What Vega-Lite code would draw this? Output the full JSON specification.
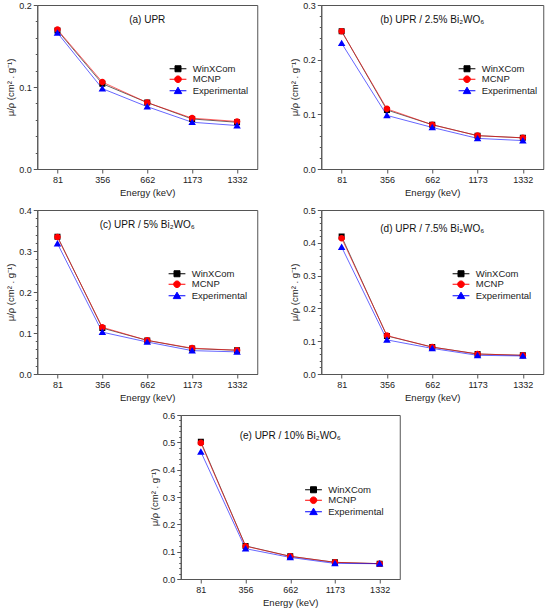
{
  "$schema": "https://vega.github.io/schema/vega-lite/v6.json",
  "padding": {"left": 5, "top": 0, "right": 3, "bottom": 2},
  "background": "white",
  "config": {
    "font": "Liberation Sans",
    "view": {"stroke": "#555", "strokeWidth": 1},
    "axis": {"labelFontSize": 9, "titleFontSize": 9.5, "titleFontWeight": "normal", "grid": false, "domainColor": "#555", "tickColor": "#555", "labelColor": "#222", "titleColor": "#222", "tickSize": 4, "labelPadding": 2},
    "axisY": {"titlePadding": 3},
    "axisX": {"titlePadding": 3, "labelAngle": 0},
    "title": {"fontSize": 10, "fontWeight": "normal", "color": "#111", "anchor": "middle", "baseline": "middle", "frame": "group"},
    "legend": {"labelFontSize": 9.5, "labelColor": "#222", "symbolSize": 36, "symbolStrokeWidth": 1, "labelOffset": 10, "rowPadding": -0.5, "orient": "none"}
  },
  "datasets": {
    "d": [
      {"panel": "a", "series": "WinXCom", "energy": 81, "mu": 0.169},
      {"panel": "a", "series": "WinXCom", "energy": 356, "mu": 0.104},
      {"panel": "a", "series": "WinXCom", "energy": 662, "mu": 0.081},
      {"panel": "a", "series": "WinXCom", "energy": 1173, "mu": 0.061},
      {"panel": "a", "series": "WinXCom", "energy": 1332, "mu": 0.057},
      {"panel": "a", "series": "MCNP", "energy": 81, "mu": 0.170},
      {"panel": "a", "series": "MCNP", "energy": 356, "mu": 0.106},
      {"panel": "a", "series": "MCNP", "energy": 662, "mu": 0.081},
      {"panel": "a", "series": "MCNP", "energy": 1173, "mu": 0.062},
      {"panel": "a", "series": "MCNP", "energy": 1332, "mu": 0.058},
      {"panel": "a", "series": "Experimental", "energy": 81, "mu": 0.166},
      {"panel": "a", "series": "Experimental", "energy": 356, "mu": 0.098},
      {"panel": "a", "series": "Experimental", "energy": 662, "mu": 0.076},
      {"panel": "a", "series": "Experimental", "energy": 1173, "mu": 0.057},
      {"panel": "a", "series": "Experimental", "energy": 1332, "mu": 0.053},

      {"panel": "b", "series": "WinXCom", "energy": 81, "mu": 0.252},
      {"panel": "b", "series": "WinXCom", "energy": 356, "mu": 0.108},
      {"panel": "b", "series": "WinXCom", "energy": 662, "mu": 0.081},
      {"panel": "b", "series": "WinXCom", "energy": 1173, "mu": 0.061},
      {"panel": "b", "series": "WinXCom", "energy": 1332, "mu": 0.057},
      {"panel": "b", "series": "MCNP", "energy": 81, "mu": 0.252},
      {"panel": "b", "series": "MCNP", "energy": 356, "mu": 0.110},
      {"panel": "b", "series": "MCNP", "energy": 662, "mu": 0.081},
      {"panel": "b", "series": "MCNP", "energy": 1173, "mu": 0.061},
      {"panel": "b", "series": "MCNP", "energy": 1332, "mu": 0.057},
      {"panel": "b", "series": "Experimental", "energy": 81, "mu": 0.230},
      {"panel": "b", "series": "Experimental", "energy": 356, "mu": 0.098},
      {"panel": "b", "series": "Experimental", "energy": 662, "mu": 0.076},
      {"panel": "b", "series": "Experimental", "energy": 1173, "mu": 0.056},
      {"panel": "b", "series": "Experimental", "energy": 1332, "mu": 0.052},

      {"panel": "c", "series": "WinXCom", "energy": 81, "mu": 0.335},
      {"panel": "c", "series": "WinXCom", "energy": 356, "mu": 0.112},
      {"panel": "c", "series": "WinXCom", "energy": 662, "mu": 0.082},
      {"panel": "c", "series": "WinXCom", "energy": 1173, "mu": 0.062},
      {"panel": "c", "series": "WinXCom", "energy": 1332, "mu": 0.058},
      {"panel": "c", "series": "MCNP", "energy": 81, "mu": 0.334},
      {"panel": "c", "series": "MCNP", "energy": 356, "mu": 0.114},
      {"panel": "c", "series": "MCNP", "energy": 662, "mu": 0.082},
      {"panel": "c", "series": "MCNP", "energy": 1173, "mu": 0.063},
      {"panel": "c", "series": "MCNP", "energy": 1332, "mu": 0.058},
      {"panel": "c", "series": "Experimental", "energy": 81, "mu": 0.318},
      {"panel": "c", "series": "Experimental", "energy": 356, "mu": 0.102},
      {"panel": "c", "series": "Experimental", "energy": 662, "mu": 0.078},
      {"panel": "c", "series": "Experimental", "energy": 1173, "mu": 0.057},
      {"panel": "c", "series": "Experimental", "energy": 1332, "mu": 0.054},

      {"panel": "d", "series": "WinXCom", "energy": 81, "mu": 0.419},
      {"panel": "d", "series": "WinXCom", "energy": 356, "mu": 0.116},
      {"panel": "d", "series": "WinXCom", "energy": 662, "mu": 0.082},
      {"panel": "d", "series": "WinXCom", "energy": 1173, "mu": 0.061},
      {"panel": "d", "series": "WinXCom", "energy": 1332, "mu": 0.057},
      {"panel": "d", "series": "MCNP", "energy": 81, "mu": 0.414},
      {"panel": "d", "series": "MCNP", "energy": 356, "mu": 0.117},
      {"panel": "d", "series": "MCNP", "energy": 662, "mu": 0.082},
      {"panel": "d", "series": "MCNP", "energy": 1173, "mu": 0.061},
      {"panel": "d", "series": "MCNP", "energy": 1332, "mu": 0.057},
      {"panel": "d", "series": "Experimental", "energy": 81, "mu": 0.387},
      {"panel": "d", "series": "Experimental", "energy": 356, "mu": 0.104},
      {"panel": "d", "series": "Experimental", "energy": 662, "mu": 0.078},
      {"panel": "d", "series": "Experimental", "energy": 1173, "mu": 0.057},
      {"panel": "d", "series": "Experimental", "energy": 1332, "mu": 0.055},

      {"panel": "e", "series": "WinXCom", "energy": 81, "mu": 0.502},
      {"panel": "e", "series": "WinXCom", "energy": 356, "mu": 0.121},
      {"panel": "e", "series": "WinXCom", "energy": 662, "mu": 0.083},
      {"panel": "e", "series": "WinXCom", "energy": 1173, "mu": 0.061},
      {"panel": "e", "series": "WinXCom", "energy": 1332, "mu": 0.056},
      {"panel": "e", "series": "MCNP", "energy": 81, "mu": 0.498},
      {"panel": "e", "series": "MCNP", "energy": 356, "mu": 0.120},
      {"panel": "e", "series": "MCNP", "energy": 662, "mu": 0.083},
      {"panel": "e", "series": "MCNP", "energy": 1173, "mu": 0.061},
      {"panel": "e", "series": "MCNP", "energy": 1332, "mu": 0.056},
      {"panel": "e", "series": "Experimental", "energy": 81, "mu": 0.465},
      {"panel": "e", "series": "Experimental", "energy": 356, "mu": 0.111},
      {"panel": "e", "series": "Experimental", "energy": 662, "mu": 0.079},
      {"panel": "e", "series": "Experimental", "energy": 1173, "mu": 0.057},
      {"panel": "e", "series": "Experimental", "energy": 1332, "mu": 0.056}
    ]
  },
  "resolve": {"scale": {"color": "independent", "shape": "independent"}, "legend": {"color": "independent", "shape": "independent"}},
  "center": true,
  "spacing": 8,
  "vconcat": [
    {
      "resolve": {"scale": {"color": "independent", "shape": "independent"}, "legend": {"color": "independent", "shape": "independent"}},
      "spacing": 30,
      "hconcat": [
        {
          "width": 220, "height": 164,
          "title": {"text": "(a) UPR", "offset": -24},
          "data": {"name": "d"},
          "transform": [{"filter": "datum.panel === 'a'"}],
          "encoding": {
            "x": {"field": "energy", "type": "ordinal", "scale": {"type": "point", "padding": 0.45}, "axis": {"title": "Energy (keV)"}},
            "y": {"field": "mu", "type": "quantitative", "scale": {"domain": [0, 0.2]}, "axis": {"title": "μ/ρ (cm² . g⁻¹)", "values": [0, 0.02, 0.04, 0.06, 0.08, 0.1, 0.12, 0.14, 0.16, 0.18, 0.2], "labelExpr": "abs(datum.value*10 - round(datum.value*10)) < 0.001 ? format(datum.value, '.1f') : ''", "tickSize": {"condition": {"test": "abs(datum.value*10 - round(datum.value*10)) < 0.001", "value": 4}, "value": 2}}},
            "color": {"field": "series", "type": "nominal", "scale": {"domain": ["WinXCom", "MCNP", "Experimental"], "range": ["#000000", "#ff0000", "#0000ff"]}, "legend": {"title": null, "legendX": 136, "legendY": 59}}
          },
          "layer": [
            {"mark": {"type": "line", "strokeWidth": 1, "strokeOpacity": 0.6}},
            {"mark": {"type": "point", "filled": true, "opacity": 1, "size": 36}, "encoding": {"shape": {"field": "series", "type": "nominal", "scale": {"domain": ["WinXCom", "MCNP", "Experimental"], "range": ["M-2.8,0H2.8M-1,-1H1V1H-1Z", "M-2.8,0H2.8M1.1,0A1.1,1.1 0 1,1 -1.1,0A1.1,1.1 0 1,1 1.1,0Z", "M-2.8,0H2.8M0,-1.2L1.25,0.95H-1.25Z"]}, "legend": {"title": null, "legendX": 136, "legendY": 59}}}}
          ]
        },
        {
          "width": 222, "height": 164,
          "title": {"text": "(b) UPR / 2.5% Bi₂WO₆", "offset": -24},
          "data": {"name": "d"},
          "transform": [{"filter": "datum.panel === 'b'"}],
          "encoding": {
            "x": {"field": "energy", "type": "ordinal", "scale": {"type": "point", "padding": 0.45}, "axis": {"title": "Energy (keV)"}},
            "y": {"field": "mu", "type": "quantitative", "scale": {"domain": [0, 0.3]}, "axis": {"title": "μ/ρ (cm² . g⁻¹)", "values": [0, 0.02, 0.04, 0.06, 0.08, 0.1, 0.12, 0.14, 0.16, 0.18, 0.2, 0.22, 0.24, 0.26, 0.28, 0.3], "labelExpr": "abs(datum.value*10 - round(datum.value*10)) < 0.001 ? format(datum.value, '.1f') : ''", "tickSize": {"condition": {"test": "abs(datum.value*10 - round(datum.value*10)) < 0.001", "value": 4}, "value": 2}}},
            "color": {"field": "series", "type": "nominal", "scale": {"domain": ["WinXCom", "MCNP", "Experimental"], "range": ["#000000", "#ff0000", "#0000ff"]}, "legend": {"title": null, "legendX": 141, "legendY": 59}}
          },
          "layer": [
            {"mark": {"type": "line", "strokeWidth": 1, "strokeOpacity": 0.6}},
            {"mark": {"type": "point", "filled": true, "opacity": 1, "size": 36}, "encoding": {"shape": {"field": "series", "type": "nominal", "scale": {"domain": ["WinXCom", "MCNP", "Experimental"], "range": ["M-2.8,0H2.8M-1,-1H1V1H-1Z", "M-2.8,0H2.8M1.1,0A1.1,1.1 0 1,1 -1.1,0A1.1,1.1 0 1,1 1.1,0Z", "M-2.8,0H2.8M0,-1.2L1.25,0.95H-1.25Z"]}, "legend": {"title": null, "legendX": 141, "legendY": 59}}}}
          ]
        }
      ]
    },
    {
      "resolve": {"scale": {"color": "independent", "shape": "independent"}, "legend": {"color": "independent", "shape": "independent"}},
      "spacing": 30,
      "hconcat": [
        {
          "width": 220, "height": 164,
          "title": {"text": "(c) UPR / 5% Bi₂WO₆", "offset": -24},
          "data": {"name": "d"},
          "transform": [{"filter": "datum.panel === 'c'"}],
          "encoding": {
            "x": {"field": "energy", "type": "ordinal", "scale": {"type": "point", "padding": 0.45}, "axis": {"title": "Energy (keV)"}},
            "y": {"field": "mu", "type": "quantitative", "scale": {"domain": [0, 0.4]}, "axis": {"title": "μ/ρ (cm² . g⁻¹)", "values": [0, 0.02, 0.04, 0.06, 0.08, 0.1, 0.12, 0.14, 0.16, 0.18, 0.2, 0.22, 0.24, 0.26, 0.28, 0.3, 0.32, 0.34, 0.36, 0.38, 0.4], "labelExpr": "abs(datum.value*10 - round(datum.value*10)) < 0.001 ? format(datum.value, '.1f') : ''", "tickSize": {"condition": {"test": "abs(datum.value*10 - round(datum.value*10)) < 0.001", "value": 4}, "value": 2}}},
            "color": {"field": "series", "type": "nominal", "scale": {"domain": ["WinXCom", "MCNP", "Experimental"], "range": ["#000000", "#ff0000", "#0000ff"]}, "legend": {"title": null, "legendX": 135, "legendY": 59}}
          },
          "layer": [
            {"mark": {"type": "line", "strokeWidth": 1, "strokeOpacity": 0.6}},
            {"mark": {"type": "point", "filled": true, "opacity": 1, "size": 36}, "encoding": {"shape": {"field": "series", "type": "nominal", "scale": {"domain": ["WinXCom", "MCNP", "Experimental"], "range": ["M-2.8,0H2.8M-1,-1H1V1H-1Z", "M-2.8,0H2.8M1.1,0A1.1,1.1 0 1,1 -1.1,0A1.1,1.1 0 1,1 1.1,0Z", "M-2.8,0H2.8M0,-1.2L1.25,0.95H-1.25Z"]}, "legend": {"title": null, "legendX": 135, "legendY": 59}}}}
          ]
        },
        {
          "width": 222, "height": 164,
          "title": {"text": "(d) UPR / 7.5% Bi₂WO₆", "offset": -28},
          "data": {"name": "d"},
          "transform": [{"filter": "datum.panel === 'd'"}],
          "encoding": {
            "x": {"field": "energy", "type": "ordinal", "scale": {"type": "point", "padding": 0.45}, "axis": {"title": "Energy (keV)"}},
            "y": {"field": "mu", "type": "quantitative", "scale": {"domain": [0, 0.5]}, "axis": {"title": "μ/ρ (cm² . g⁻¹)", "values": [0, 0.02, 0.04, 0.06, 0.08, 0.1, 0.12, 0.14, 0.16, 0.18, 0.2, 0.22, 0.24, 0.26, 0.28, 0.3, 0.32, 0.34, 0.36, 0.38, 0.4, 0.42, 0.44, 0.46, 0.48, 0.5], "labelExpr": "abs(datum.value*10 - round(datum.value*10)) < 0.001 ? format(datum.value, '.1f') : ''", "tickSize": {"condition": {"test": "abs(datum.value*10 - round(datum.value*10)) < 0.001", "value": 4}, "value": 2}}},
            "color": {"field": "series", "type": "nominal", "scale": {"domain": ["WinXCom", "MCNP", "Experimental"], "range": ["#000000", "#ff0000", "#0000ff"]}, "legend": {"title": null, "legendX": 135, "legendY": 59}}
          },
          "layer": [
            {"mark": {"type": "line", "strokeWidth": 1, "strokeOpacity": 0.6}},
            {"mark": {"type": "point", "filled": true, "opacity": 1, "size": 36}, "encoding": {"shape": {"field": "series", "type": "nominal", "scale": {"domain": ["WinXCom", "MCNP", "Experimental"], "range": ["M-2.8,0H2.8M-1,-1H1V1H-1Z", "M-2.8,0H2.8M1.1,0A1.1,1.1 0 1,1 -1.1,0A1.1,1.1 0 1,1 1.1,0Z", "M-2.8,0H2.8M0,-1.2L1.25,0.95H-1.25Z"]}, "legend": {"title": null, "legendX": 135, "legendY": 59}}}}
          ]
        }
      ]
    },
    {
      "width": 219, "height": 164,
      "title": {"text": "(e) UPR / 10% Bi₂WO₆", "offset": -30},
      "data": {"name": "d"},
      "transform": [{"filter": "datum.panel === 'e'"}],
      "encoding": {
        "x": {"field": "energy", "type": "ordinal", "scale": {"type": "point", "padding": 0.45}, "axis": {"title": "Energy (keV)"}},
        "y": {"field": "mu", "type": "quantitative", "scale": {"domain": [0, 0.6]}, "axis": {"title": "μ/ρ (cm² . g⁻¹)", "values": [0, 0.02, 0.04, 0.06, 0.08, 0.1, 0.12, 0.14, 0.16, 0.18, 0.2, 0.22, 0.24, 0.26, 0.28, 0.3, 0.32, 0.34, 0.36, 0.38, 0.4, 0.42, 0.44, 0.46, 0.48, 0.5, 0.52, 0.54, 0.56, 0.58, 0.6], "labelExpr": "abs(datum.value*10 - round(datum.value*10)) < 0.001 ? format(datum.value, '.1f') : ''", "tickSize": {"condition": {"test": "abs(datum.value*10 - round(datum.value*10)) < 0.001", "value": 4}, "value": 2}}},
        "color": {"field": "series", "type": "nominal", "scale": {"domain": ["WinXCom", "MCNP", "Experimental"], "range": ["#000000", "#ff0000", "#0000ff"]}, "legend": {"title": null, "legendX": 128, "legendY": 70}}
      },
      "layer": [
        {"mark": {"type": "line", "strokeWidth": 1, "strokeOpacity": 0.6}},
        {"mark": {"type": "point", "filled": true, "opacity": 1, "size": 36}, "encoding": {"shape": {"field": "series", "type": "nominal", "scale": {"domain": ["WinXCom", "MCNP", "Experimental"], "range": ["M-2.8,0H2.8M-1,-1H1V1H-1Z", "M-2.8,0H2.8M1.1,0A1.1,1.1 0 1,1 -1.1,0A1.1,1.1 0 1,1 1.1,0Z", "M-2.8,0H2.8M0,-1.2L1.25,0.95H-1.25Z"]}, "legend": {"title": null, "legendX": 128, "legendY": 70}}}}
      ]
    }
  ]
}
